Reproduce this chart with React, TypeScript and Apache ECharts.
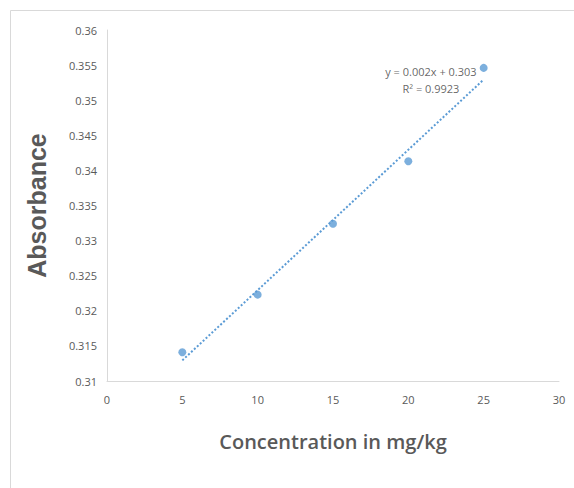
import React, { useEffect, useRef } from "react";
import * as echarts from "echarts";

const concentrations = [5, 10, 15, 20, 25];
const absorbance = [0.3141, 0.3223, 0.3324, 0.3413, 0.3546];
const trendStart = 5;
const trendEnd = 25;
const equationLines = ["y = 0.002x + 0.303", "R² = 0.9923"];
const equationAnchor = [21.5, 0.3529];

function regression(xs: number[], ys: number[]) {
  const n = xs.length;
  const mx = xs.reduce((a, b) => a + b, 0) / n;
  const my = ys.reduce((a, b) => a + b, 0) / n;
  let sxy = 0, sxx = 0;
  for (let i = 0; i < n; i++) {
    sxy += (xs[i] - mx) * (ys[i] - my);
    sxx += (xs[i] - mx) * (xs[i] - mx);
  }
  const slope = sxy / sxx;
  return { slope, intercept: my - slope * mx };
}

export default function App() {
  const ref = useRef<HTMLDivElement>(null);
  useEffect(() => {
    if (!ref.current) return;
    const chart = echarts.init(ref.current, undefined, { renderer: "svg" });
    const { slope, intercept } = regression(concentrations, absorbance);
    const trend = [trendStart, trendEnd].map((x) => [x, slope * x + intercept]);
    const font = "'Open Sans', 'Liberation Sans', sans-serif";
    chart.setOption({
      animation: false,
      backgroundColor: "#ffffff",
      graphic: [
        {
          type: "rect",
          shape: { x: 10.5, y: 10.5, width: 700, height: 700 },
          style: { fill: "none", stroke: "#d9d9d9", lineWidth: 1 },
          silent: true,
        },
      ],
      grid: { left: 107, right: 15, top: 30, bottom: 107 },
      xAxis: {
        type: "value",
        min: 0,
        max: 30,
        interval: 5,
        name: "Concentration in mg/kg",
        nameLocation: "middle",
        nameGap: 50,
        nameTextStyle: { color: "#595959", fontSize: 20, fontWeight: 600, fontFamily: "'Liberation Sans Narrow', 'Open Sans', sans-serif" },
        axisLine: { show: true, lineStyle: { color: "#d9d9d9", width: 1 } },
        axisTick: { show: false },
        splitLine: { show: false },
        axisLabel: { color: "#595959", fontSize: 11, fontFamily: font, margin: 13 },
      },
      yAxis: {
        type: "value",
        min: 0.31,
        max: 0.36,
        interval: 0.005,
        name: "Absorbance",
        nameLocation: "middle",
        nameGap: 58,
        nameTextStyle: { color: "#595959", fontSize: 25, fontWeight: "bold", fontFamily: "'Liberation Sans', Arial, sans-serif" },
        axisLine: { show: true, lineStyle: { color: "#d9d9d9", width: 1 } },
        axisTick: { show: false },
        splitLine: { show: false },
        axisLabel: {
          color: "#595959",
          fontSize: 11,
          fontFamily: font,
          margin: 10,
          formatter: (v: number) => String(parseFloat(v.toFixed(3))),
        },
      },
      series: [
        {
          type: "line",
          data: trend,
          symbol: "none",
          lineStyle: { color: "#5b9bd5", width: 2, type: [2, 2] },
          z: 1,
        },
        {
          type: "scatter",
          data: concentrations.map((x, i) => [x, absorbance[i]]),
          symbol: "circle",
          symbolSize: 8,
          itemStyle: { color: "#5b9bd5" },
          z: 2,
        },
        {
          type: "scatter",
          data: [equationAnchor],
          symbolSize: 0,
          label: {
            show: true,
            position: "inside",
            formatter: equationLines.join("\n"),
            color: "#404040",
            fontSize: 11,
            lineHeight: 17,
            align: "center",
            fontFamily: font,
          },
          silent: true,
          z: 3,
        },
      ],
    });
    return () => chart.dispose();
  }, []);
  return (
    <div
      ref={ref}
      style={{ position: "fixed", left: 0, top: 0, width: 574, height: 488 }}
    />
  );
}
